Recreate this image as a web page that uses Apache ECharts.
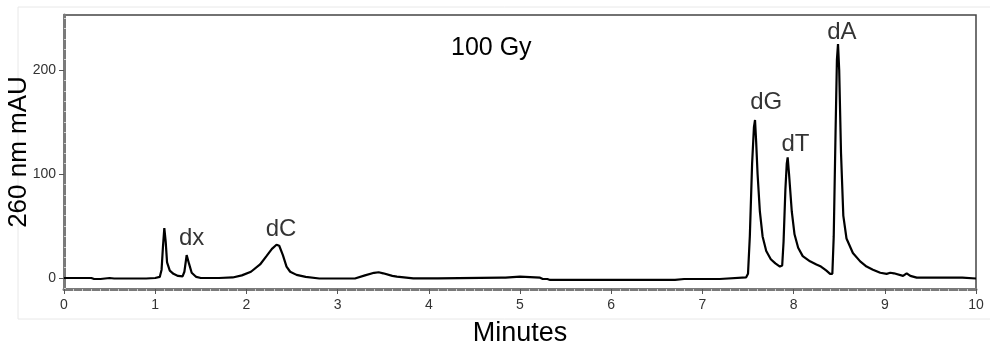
<!DOCTYPE html>
<html>
<head>
<meta charset="utf-8">
<script src="https://cdn.jsdelivr.net/npm/echarts@6/dist/echarts.min.js"></script>
<style>html,body{margin:0;padding:0;background:#fff;}#c{width:990px;height:347px;}</style>
</head>
<body>
<div id="c"></div>
<script>
// Retention time (minutes)
var timeMin = [0,0.30,0.33,0.40,0.42,0.50,0.55,0.90,1.00,1.05,1.07,1.085,1.10,1.115,1.13,1.16,1.20,1.25,1.30,1.32,1.345,1.37,1.40,1.45,1.50,1.70,1.85,1.95,2.05,2.15,2.22,2.28,2.33,2.36,2.40,2.44,2.48,2.55,2.65,2.80,3.19,3.30,3.40,3.45,3.50,3.60,3.65,3.83,4.10,4.12,4.80,4.82,4.84,5.00,5.02,5.22,5.25,5.30,5.33,6.70,6.72,6.80,6.82,7.19,7.21,7.48,7.50,7.52,7.545,7.565,7.577,7.59,7.605,7.63,7.66,7.70,7.75,7.80,7.85,7.875,7.89,7.91,7.925,7.935,7.95,7.98,8.01,8.05,8.10,8.18,8.25,8.30,8.36,8.40,8.425,8.44,8.46,8.475,8.487,8.50,8.52,8.545,8.58,8.65,8.73,8.80,8.87,8.95,9.02,9.06,9.10,9.20,9.24,9.28,9.35,9.75,9.77,9.80,9.82,9.85,9.87,10.0];
// Absorbance at 260 nm (mAU)
var absorb = [0,0,-1,-1,0,0,-0.5,-0.5,0,1,8,30,48,35,15,7,4,2,1.5,6,22,14,5,1,0,0,0.5,2.5,6,13,21,28,32,31,22,11,6,3,1,-0.5,-0.5,2.5,5,5.5,4.5,2,1.3,-0.3,-0.3,0.3,0.3,-0.5,0.3,1.3,0.3,0.3,-1,-1,-1.9,-1.9,-1,-1,-1,-1,0.6,0.6,4,40,110,145,152,130,100,64,40,26,18,14,11,12,35,85,110,116,100,64,42,29,21,16,13,11,7,4,4,40,140,210,225,200,120,60,38,24,16,11,8,5,4,5,4.5,2,4.5,2,0.3,0.3,-0.5,0.3,-0.5,0.3,-0.5,-0.5];
// Peak labels
var peakNames = ['dx','dC','dG','dT','dA'];
var peakLabelX = [1.40,2.38,7.70,8.02,8.53];
var peakLabelY = [38,47,169,129,236];
// Tick labels
var yMajorTicks = [0,100,200];
var yMinorTicks = [-10,10,20,30,40,50,60,70,80,90,110,120,130,140,150,160,170,180,190,210,220,230,240,250];
var chartTitle = '100 Gy';
var xName = 'Minutes';
var yName = '260 nm mAU';

var lineData = timeMin.map(function(t,i){return [t, absorb[i]];});
var labelData = peakNames.map(function(n,i){return {name:n, value:[peakLabelX[i], peakLabelY[i]]};});
var FONT = '"Liberation Sans", Arial, sans-serif';
var YMIN = -10.6, YMAX = 253;

var chart = echarts.init(document.getElementById('c'));
chart.setOption({
  animation:false,
  backgroundColor:'#fff',
  textStyle:{fontFamily:FONT},
  title:{text:chartTitle,left:446,top:31,textStyle:{fontSize:25,fontWeight:'normal',color:'#000',fontFamily:FONT}},
  graphic:[{type:'rect',shape:{x:18,y:7,width:1000,height:312},style:{fill:'none',stroke:'#e8e8e8',lineWidth:1},silent:true,z:-10}],
  grid:{left:64,right:14,top:15,bottom:58,show:true,borderColor:'#444',borderWidth:1.5,backgroundColor:'transparent',outerBoundsMode:'none',containLabel:false},
  xAxis:{type:'value',min:0,max:10,interval:1,
    name:xName,nameLocation:'middle',nameGap:31,nameMoveOverlap:false,nameTextStyle:{fontSize:27,color:'#000',fontFamily:FONT},
    axisLine:{show:true,onZero:false,lineStyle:{color:'#7a7a7a',width:3}},
    axisTick:{show:true,length:5,lineStyle:{color:'#555',width:1}},
    minorTick:{show:true,splitNumber:10,length:2,lineStyle:{color:'#d0d0d0',width:1}},
    axisLabel:{fontSize:14,color:'#333',margin:9,fontFamily:FONT},
    splitLine:{show:false},minorSplitLine:{show:false}},
  yAxis:[{type:'value',min:YMIN,max:YMAX,
    name:yName,nameLocation:'middle',nameGap:32,nameMoveOverlap:false,nameRotate:90,nameTextStyle:{fontSize:26,color:'#000',fontFamily:FONT},
    axisLine:{show:true,onZero:false,lineStyle:{color:'#7a7a7a',width:3}},
    axisTick:{show:true,length:5,customValues:yMajorTicks,lineStyle:{color:'#555',width:1}},
    axisLabel:{fontSize:14,color:'#333',margin:8,customValues:yMajorTicks,fontFamily:FONT},
    splitLine:{show:false}},
   {type:'value',min:YMIN,max:YMAX,position:'left',offset:0,
    axisLine:{show:false},
    axisTick:{show:true,inside:true,length:2,customValues:yMinorTicks,lineStyle:{color:'#d0d0d0',width:1}},
    axisLabel:{show:false},splitLine:{show:false}}],
  series:[
    {type:'line',data:lineData,showSymbol:false,symbol:'none',smooth:false,
     lineStyle:{color:'#000',width:2.2},z:3},
    {type:'scatter',data:labelData,symbolSize:0,silent:true,z:5,
     label:{show:true,position:'inside',formatter:'{b}',fontSize:24,color:'#000',textBorderWidth:0,fontFamily:FONT}}
  ]
});
</script>
</body>
</html>
